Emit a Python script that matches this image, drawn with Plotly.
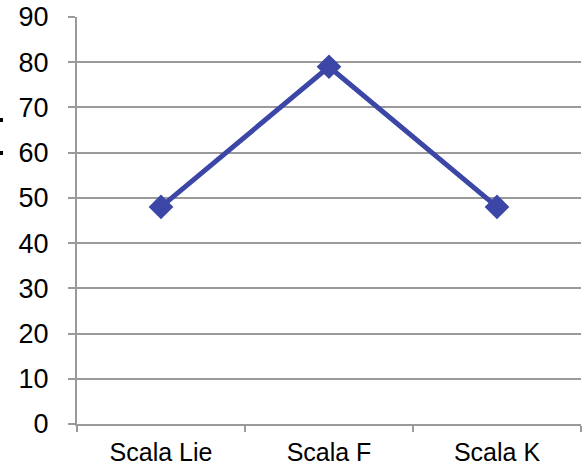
import plotly.graph_objects as go

# Scale scores
categories = ["Scala Lie", "Scala F", "Scala K"]
scores = [48, 79, 48]
y_ticks = [0, 10, 20, 30, 40, 50, 60, 70, 80, 90]

line_color = "#3C46A6"
grid_color = "#9A9A9A"
font_family = "Liberation Sans, Arial, sans-serif"

fig = go.Figure()
fig.add_trace(go.Scatter(
    x=categories,
    y=scores,
    mode="lines+markers",
    line=dict(color=line_color, width=5),
    marker=dict(symbol="diamond", size=19, color=line_color),
    showlegend=False,
))

fig.update_layout(
    width=582,
    height=469,
    margin=dict(l=77, r=1, t=17, b=45),
    paper_bgcolor="white",
    plot_bgcolor="white",
    font=dict(family=font_family, size=25, color="#000000"),
    xaxis=dict(
        type="category",
        range=[-0.5, 2.5],
        automargin=False,
        tickson="boundaries",
        ticks="outside",
        ticklen=6,
        tickwidth=2,
        tickcolor=grid_color,
        showline=True,
        linecolor=grid_color,
        linewidth=2,
        showgrid=False,
        ticklabelstandoff=5,
        tickfont=dict(size=25),
    ),
    yaxis=dict(
        range=[0, 90],
        automargin=False,
        tickvals=y_ticks,
        ticks="outside",
        ticklen=7,
        tickwidth=2,
        tickcolor=grid_color,
        showline=True,
        linecolor=grid_color,
        linewidth=2,
        showgrid=True,
        gridcolor=grid_color,
        gridwidth=2,
        zeroline=False,
        ticklabelstandoff=14,
        tickfont=dict(size=27),
    ),
)

# Fragments of a clipped axis title at the far left edge
for yc in (120, 153):
    fig.add_shape(
        type="rect", xref="paper", yref="paper",
        x0=-77 / 504, x1=-74 / 504,
        y0=(424 - yc - 2) / 407, y1=(424 - yc + 2) / 407,
        fillcolor="#000000", line=dict(width=0),
    )

fig.write_html("out.html")
